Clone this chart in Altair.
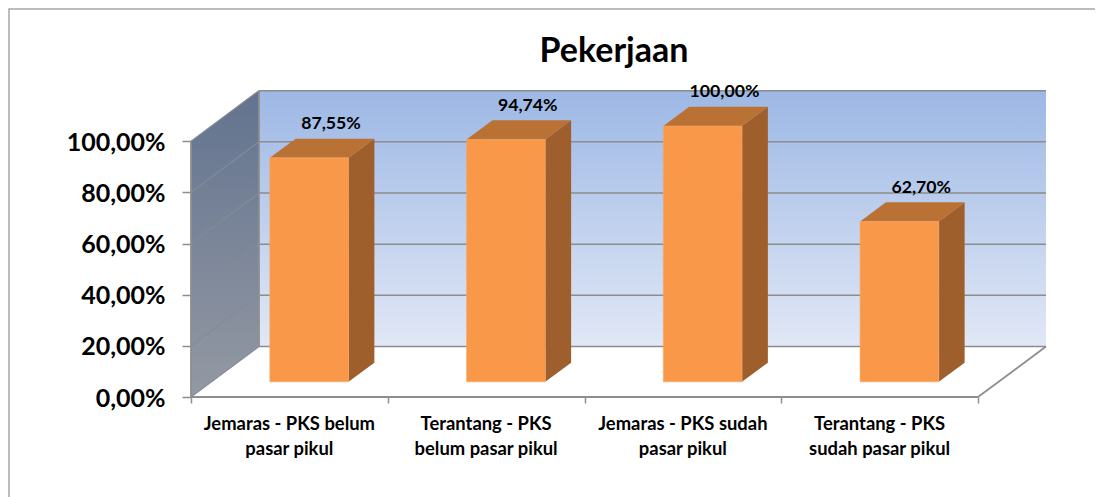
import altair as alt
import pandas as pd

title = "Pekerjaan"
categories = ["Jemaras - PKS belum\npasar pikul", "Terantang - PKS\nbelum pasar pikul",
              "Jemaras - PKS sudah\npasar pikul", "Terantang - PKS\nsudah pasar pikul"]
values = [87.55, 94.74, 100.0, 62.70]
grid_values = [0, 20, 40, 60, 80, 100]
tick_positions = [0, 1, 2, 3, 4]

FONT = "Lato"
DX, DY = 0.3456, 19.75          # oblique depth of the 3D box, in axis units
F, B = 0.30, 0.68               # bar front / back position as a share of the depth
LEFT, RIGHT = 0.297, 0.697      # bar width inside a category
n = len(values)
XDOM = [0, n + DX]
YDOM = [0, 120]
fx, fy, bx, by = DX * F, DY * F, DX * B, DY * B

XAXIS = alt.Axis(values=tick_positions, title=None, labels=False, domain=False, grid=False,
                 tickSize=6, tickColor="#8E8E8E", tickWidth=1.5)
YAXIS = alt.Axis(values=grid_values, title=None, domain=False, grid=False,
                 tickSize=9, tickColor="#8E8E8E", tickWidth=1.5, labelPadding=17, labelOffset=1,
                 labelFont=FONT, labelFontWeight="bold", labelFontSize=25, labelColor="black",
                 labelExpr="replace(format(datum.value, '.2f'), '.', ',') + '%'")

X = lambda f="x": alt.X(f"{f}:Q", scale=alt.Scale(domain=XDOM, nice=False, zero=False), axis=XAXIS)
Y = lambda f="y": alt.Y(f"{f}:Q", scale=alt.Scale(domain=YDOM, nice=False, zero=False), axis=YAXIS)


def rules(rows, color, width=1.5):
    df = pd.DataFrame(rows, columns=["x", "x2", "y", "y2"])
    return alt.Chart(df).mark_rule(color=color, strokeWidth=width).encode(
        x=X(), x2="x2:Q", y=Y(), y2="y2:Q")


# Frame around the whole chart
frame = alt.Chart(pd.DataFrame({"x": [-0.925], "x2": [5.0], "y": [151.7], "y2": [-50.0]})).mark_rect(
    filled=False, stroke="#A6A6A6", strokeWidth=1.5
).encode(x=X(), x2="x2:Q", y=Y(), y2="y2:Q")

# Back wall
back = alt.Chart(pd.DataFrame({"x": [DX], "x2": [n + DX], "y": [DY], "y2": [100 + DY]})).mark_rect(
    fill=alt.Gradient(gradient="linear", x1=0, x2=0, y1=0, y2=1,
                      stops=[alt.GradientStop(color="#9DB8E5", offset=0),
                             alt.GradientStop(color="#E1E8F6", offset=1)])
).encode(x=X(), x2="x2:Q", y=Y(), y2="y2:Q")

# Left wall
left = alt.Chart(pd.DataFrame({"x": [0, DX], "y": [0, DY], "y2": [100, 100 + DY]})).mark_area(
    fill=alt.Gradient(gradient="linear", x1=0, x2=0, y1=0, y2=1,
                      stops=[alt.GradientStop(color="#62738F", offset=0),
                             alt.GradientStop(color="#9499A3", offset=1)])
).encode(x=X(), y=Y(), y2="y2:Q")

GRID = "#8C8C8C"
back_grid = rules([[DX, n + DX, v + DY, v + DY] for v in grid_values], GRID, 1.5)
side_grid = rules([[0, DX, v, v + DY] for v in grid_values], "#858B96", 1.2)
edges = rules([[0, 0, 0, 100], [DX, DX, DY, 100 + DY], [0, n, 0, 0], [n, n + DX, 0, DY]], "#8E8E8E", 1.8)

# Bars, face by face
front_rows, side_rows, top_rows, label_rows = [], [], [], []
for i, v in enumerate(values):
    x0, x1 = i + LEFT, i + RIGHT
    front_rows.append({"x": x0 + fx, "x2": x1 + fx, "y": fy, "y2": v + fy})
    side_rows += [{"b": i, "x": x1 + fx, "y": fy, "y2": v + fy},
                  {"b": i, "x": x1 + bx, "y": by, "y2": v + by}]
    top_rows += [{"b": i, "x": x0 + fx, "y": v + fy, "y2": v + fy},
                 {"b": i, "x": x0 + bx, "y": v + fy, "y2": v + by},
                 {"b": i, "x": x1 + fx, "y": v + fy, "y2": v + by},
                 {"b": i, "x": x1 + bx, "y": v + by, "y2": v + by}]
    label_rows.append({"x": (x0 + x1) / 2 + bx, "y": v + by,
                       "t": f"{v:.2f}".replace(".", ",") + "%"})

front = alt.Chart(pd.DataFrame(front_rows)).mark_rect(fill="#F99848", stroke="#F2A868", strokeWidth=0.6).encode(
    x=X(), x2="x2:Q", y=Y(), y2="y2:Q")
side = alt.Chart(pd.DataFrame(side_rows)).mark_area(fill="#9E5F2C").encode(
    x=X(), y=Y(), y2="y2:Q", detail="b:N")
top = alt.Chart(pd.DataFrame(top_rows)).mark_area(fill="#BA7134").encode(
    x=X(), y=Y(), y2="y2:Q", detail="b:N")

bar_labels = alt.Chart(pd.DataFrame(label_rows)).mark_text(
    font=FONT, fontWeight="bold", fontSize=17.7, color="black", baseline="middle", dy=-14.5, dx=-4
).encode(x=X(), y=Y(), text="t:N")

cat_labels = alt.Chart(pd.DataFrame({"x": [i + 0.5 for i in range(n)], "y": [0] * n, "t": categories})).mark_text(
    font=FONT, fontWeight="bold", fontSize=18.4, color="black", baseline="middle", lineBreak="\n",
    lineHeight=25, dy=27
).encode(x=X(), y=Y(), text="t:N")

title_mark = alt.Chart(pd.DataFrame({"x": [2.15], "y": [134.9], "t": [title]})).mark_text(
    font=FONT, fontWeight="bold", fontSize=34, color="black", baseline="middle"
).encode(x=X(), y=Y(), text="t:N")

chart = alt.layer(frame, back, left, back_grid, side_grid, edges, side, top, front,
                  bar_labels, cat_labels, title_mark).properties(
    width=855, height=307,
    padding={"left": 183, "top": 82, "right": 49, "bottom": 100},
    autosize=alt.AutoSizeParams(type="none"),
    background="white",
).configure_view(stroke=None)

chart.save("out.html", embed_options={"renderer": "svg", "actions": False})
